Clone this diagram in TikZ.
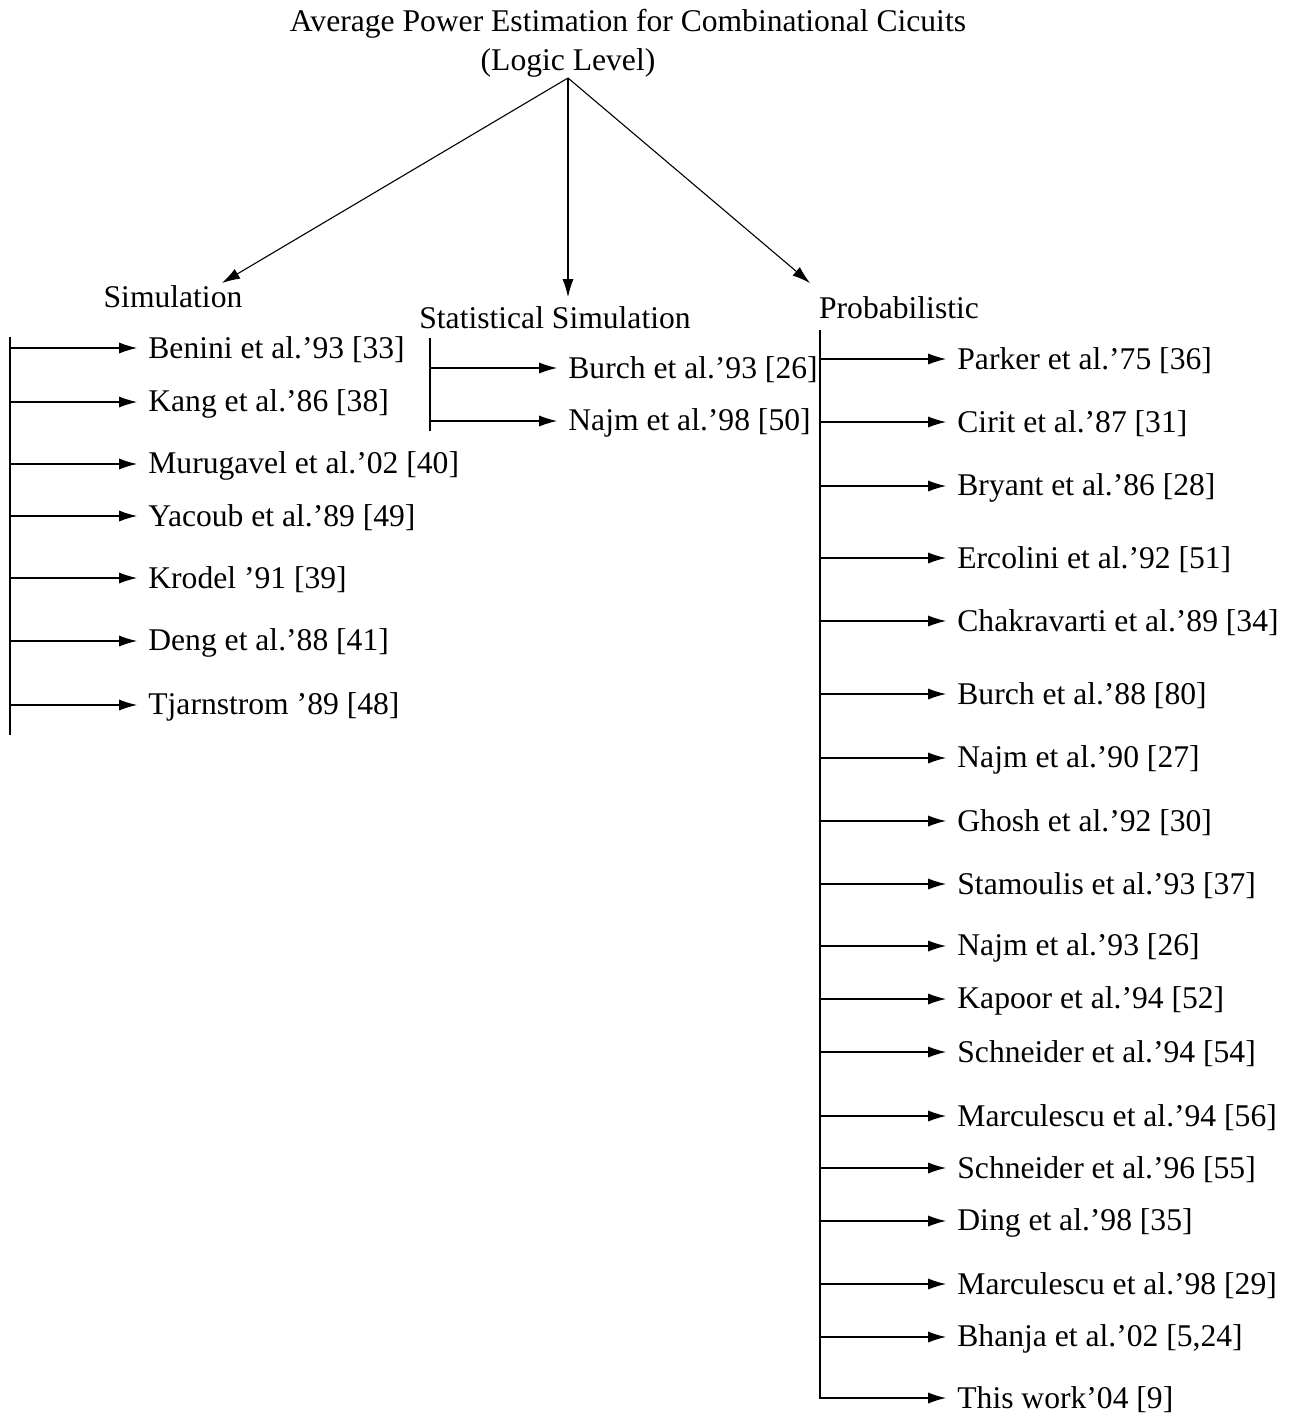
\documentclass[tikz,border=0pt]{standalone}
\usepackage{fontspec}
\setmainfont{Liberation Serif}
\usetikzlibrary{arrows.meta}
\begin{document}
\begin{tikzpicture}[x=0.5pt,y=-0.5pt,
  txt/.style={inner sep=0pt,font=\fontsize{15.8}{19}\selectfont},
  item/.style={txt,anchor=west},
  ln/.style={line width=0.55pt},
  arr/.style={ln,-{Latex[length=9pt,width=5.6pt]}}]
\useasboundingbox (0,0) rectangle (1294,1418);
% titles
\node[txt] (title) at (628,24) {Average Power Estimation for Combinational Cicuits};
\node[txt] (sub) at (568,63) {(Logic Level)};
\coordinate (top) at (568,78);
\node[txt] (sim) at (173,297) {Simulation};
\node[txt] (stat) at (555,318) {Statistical Simulation};
\node[txt] (prob) at (899,308) {Probabilistic};
\coordinate (simtip) at (222,283);
\coordinate (stattip) at (568,297);
\coordinate (probtip) at (810,283);
\draw[arr] (top) -- (simtip);
\draw[arr] (top) -- (stattip);
\draw[arr] (top) -- (probtip);
% simulation column
\coordinate (lvt) at (10,337);
\coordinate (lvb) at (10,735);
\draw[ln] (lvt) -- (lvb);
\foreach \y/\t [count=\i] in {348/{Benini et al.'93 [33]},402/{Kang et al.'86 [38]},464/{Murugavel et al.'02 [40]},516/{Yacoub et al.'89 [49]},578/{Krodel '91 [39]},641/{Deng et al.'88 [41]},705/{Tjarnstrom '89 [48]}}{
  \node[item] (s\i) at (148,\y+2) {\t};
  \coordinate (sb\i) at (10,\y);
  \draw[arr] (sb\i) -- ([xshift=-5.5pt]s\i.west |- sb\i);
}
% statistical column
\coordinate (mvt) at (430,338);
\coordinate (mvb) at (430,431);
\draw[ln] (mvt) -- (mvb);
\foreach \y/\t [count=\i] in {368/{Burch et al.'93 [26]},421/{Najm et al.'98 [50]}}{
  \node[item] (m\i) at (568,\y+2) {\t};
  \coordinate (mb\i) at (430,\y);
  \draw[arr] (mb\i) -- ([xshift=-5.5pt]m\i.west |- mb\i);
}
% probabilistic column
\coordinate (rvt) at (820,330);
\foreach \y/\t [count=\i] in {359/{Parker et al.'75 [36]},422/{Cirit et al.'87 [31]},486/{Bryant et al.'86 [28]},558/{Ercolini et al.'92 [51]},621/{Chakravarti et al.'89 [34]},694/{Burch et al.'88 [80]},758/{Najm et al.'90 [27]},821/{Ghosh et al.'92 [30]},884/{Stamoulis et al.'93 [37]},946/{Najm et al.'93 [26]},999/{Kapoor et al.'94 [52]},1052/{Schneider et al.'94 [54]},1116/{Marculescu et al.'94 [56]},1168/{Schneider et al.'96 [55]},1221/{Ding et al.'98 [35]},1284/{Marculescu et al.'98 [29]},1337/{Bhanja et al.'02 [5,24]}}{
  \node[item] (p\i) at (957,\y+2) {\t};
  \coordinate (pb\i) at (820,\y);
  \draw[arr] (pb\i) -- ([xshift=-5.5pt]p\i.west |- pb\i);
}
\node[item] (plast) at (957,1400) {This work'04 [9]};
\coordinate (pbl) at (820,1398);
\draw[arr] (rvt) -- (pbl) -- ([xshift=-5.5pt]plast.west |- pbl);
\end{tikzpicture}
\end{document}
